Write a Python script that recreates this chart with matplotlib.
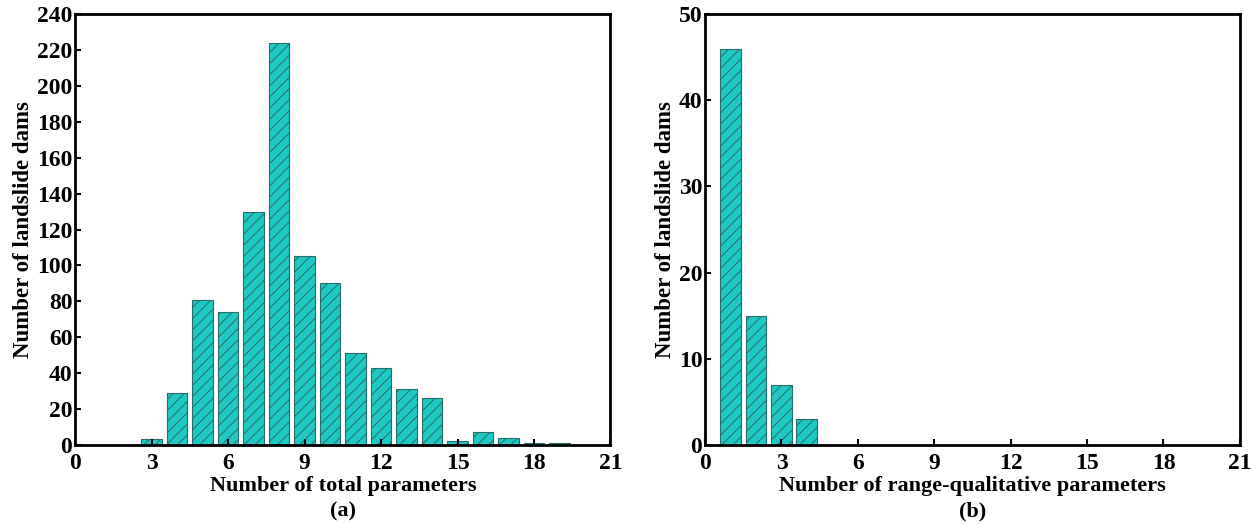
import matplotlib.pyplot as plt

plt.rcParams['font.family'] = 'Liberation Serif'
plt.rcParams['font.weight'] = 'bold'
plt.rcParams['hatch.linewidth'] = 0.7
plt.rcParams['hatch.color'] = '#2B6B68'

# panel (a)
total_x = [3, 4, 5, 6, 7, 8, 9, 10, 11, 12, 13, 14, 15, 16, 17, 18, 19]
total_n = [3, 29, 81, 74, 130, 224, 105, 90, 51, 43, 31, 26, 2, 7, 4, 1, 1]
# panel (b)
range_x = [1, 2, 3, 4]
range_n = [46, 15, 7, 3]

fill = '#1DC9C2'
edge = '#2B6B68'

fig = plt.figure(figsize=(12.51, 5.24), dpi=100)
ax1 = fig.add_axes([0.060, 0.151, 0.428, 0.822])
ax2 = fig.add_axes([0.5636, 0.151, 0.4275, 0.822])

def draw(ax, x, n, ymax, ystep, xlabel, tag):
    ax.bar(x, n, width=0.82, color=fill, edgecolor=edge, hatch='///', linewidth=0.8)
    ax.set_xlim(0, 21)
    ax.set_ylim(0, ymax)
    ax.set_xticks(range(0, 22, 3))
    ax.set_yticks(range(0, ymax + 1, ystep))
    ax.tick_params(direction='in', labelsize=17, length=4, width=1.5)
    ax.tick_params(axis='x', pad=6)
    ax.tick_params(axis='y', pad=2)
    for s in ax.spines.values():
        s.set_linewidth(2)
    ax.set_ylabel('Number of landslide dams', fontsize=16.5, fontweight='bold', labelpad=2)
    ax.set_xlabel(xlabel + '\n(' + tag + ')', fontsize=16, fontweight='bold',
                  labelpad=1, linespacing=1.4)

draw(ax1, total_x, total_n, 240, 20, 'Number of total parameters', 'a')
draw(ax2, range_x, range_n, 50, 10, 'Number of range-qualitative parameters', 'b')

fig.savefig('out.png', dpi=100)
